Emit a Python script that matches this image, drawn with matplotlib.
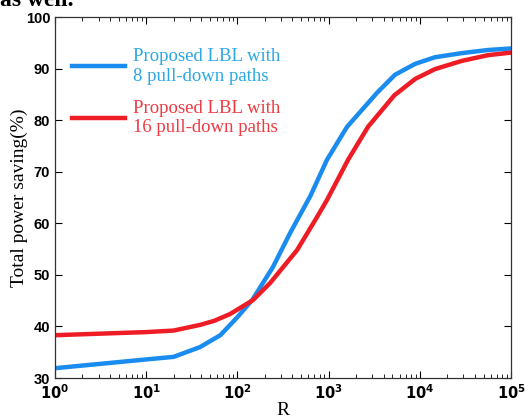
import numpy as np
import matplotlib.pyplot as plt
from matplotlib.ticker import FixedLocator, FixedFormatter, LogLocator, NullFormatter

# values (R on log axis)
r_8 = [1, 10, 20, 39, 65, 100, 145, 245, 378, 631, 959, 1592, 3396, 5346,
       8851, 14690, 29040, 55980, 100000]
saving_8 = [31.9, 33.6, 34.1, 36.0, 38.3, 41.8, 45.1, 51.5, 58.1, 65.3, 72.3, 78.7,
            85.3, 88.8, 90.9, 92.2, 93.0, 93.6, 93.9]

r_16 = [1, 10, 20, 39, 56, 83, 148, 228, 451, 746, 959, 1633, 2704, 5248,
        8913, 14690, 29040, 55980, 100000]
saving_16 = [38.3, 38.9, 39.2, 40.3, 41.1, 42.4, 45.1, 48.4, 54.8, 61.2, 64.5, 72.3,
             78.7, 84.8, 88.0, 89.9, 91.5, 92.6, 93.1]

labels = ["Proposed LBL with\n8 pull-down paths", "Proposed LBL with\n16 pull-down paths"]
y_ticks = [30, 40, 50, 60, 70, 80, 90, 100]
x_ticks = [1, 10, 100, 1000, 10000, 100000]
x_tick_labels = [r"$\mathbf{10^{%d}}$" % i for i in range(6)]

blue = "#1a8cf0"
red = "#ee1c24"

fig = plt.figure(figsize=(5.26, 4.17), dpi=100)
ax = fig.add_axes([55 / 526, 1 - 378 / 417, 456 / 526, 361 / 417])

ax.plot(r_8, saving_8, color=blue, lw=3.2, label=labels[0], solid_joinstyle="round")
ax.plot(r_16, saving_16, color=red, lw=3.2, label=labels[1], solid_joinstyle="round")

ax.set_xscale("log")
ax.set_xlim(1, 1e5)
ax.set_ylim(30, 100)
ax.xaxis.set_major_locator(FixedLocator(x_ticks))
ax.xaxis.set_major_formatter(FixedFormatter(x_tick_labels))
ax.xaxis.set_minor_locator(LogLocator(base=10, subs=np.arange(2, 10)))
ax.xaxis.set_minor_formatter(NullFormatter())
ax.set_yticks(y_ticks)
ax.set_yticklabels([str(v) for v in y_ticks], fontweight="bold", fontsize=10.5,
                   family="Liberation Sans")
ax.tick_params(which="both", direction="in", top=True, right=True, labelsize=10.5)
ax.tick_params(which="major", length=5, width=0.8)
ax.tick_params(which="minor", length=3, width=0.6)
for s in ax.spines.values():
    s.set_linewidth(0.9)
    s.set_color("#333333")

ax.set_xlabel("R", family="Liberation Serif", fontsize=14, labelpad=0)
ax.set_ylabel("Total power saving(%)", family="Liberation Serif", fontsize=14)
ax.yaxis.set_label_coords(-0.06, 0.5)

ax.legend(loc="upper left", bbox_to_anchor=(0.021, 0.935), frameon=False,
          borderaxespad=0, prop={"family": "Liberation Serif", "size": 13.5},
          handlelength=2.8, handletextpad=0.43, labelspacing=0.8,
          labelcolor=["#29a8e6", "#ee3a42"])

fig.text(0.0, 1.0, "as well.", family="Liberation Serif", fontsize=17,
         fontweight="bold", va="center", ha="left")

fig.savefig("out.png", dpi=100)
